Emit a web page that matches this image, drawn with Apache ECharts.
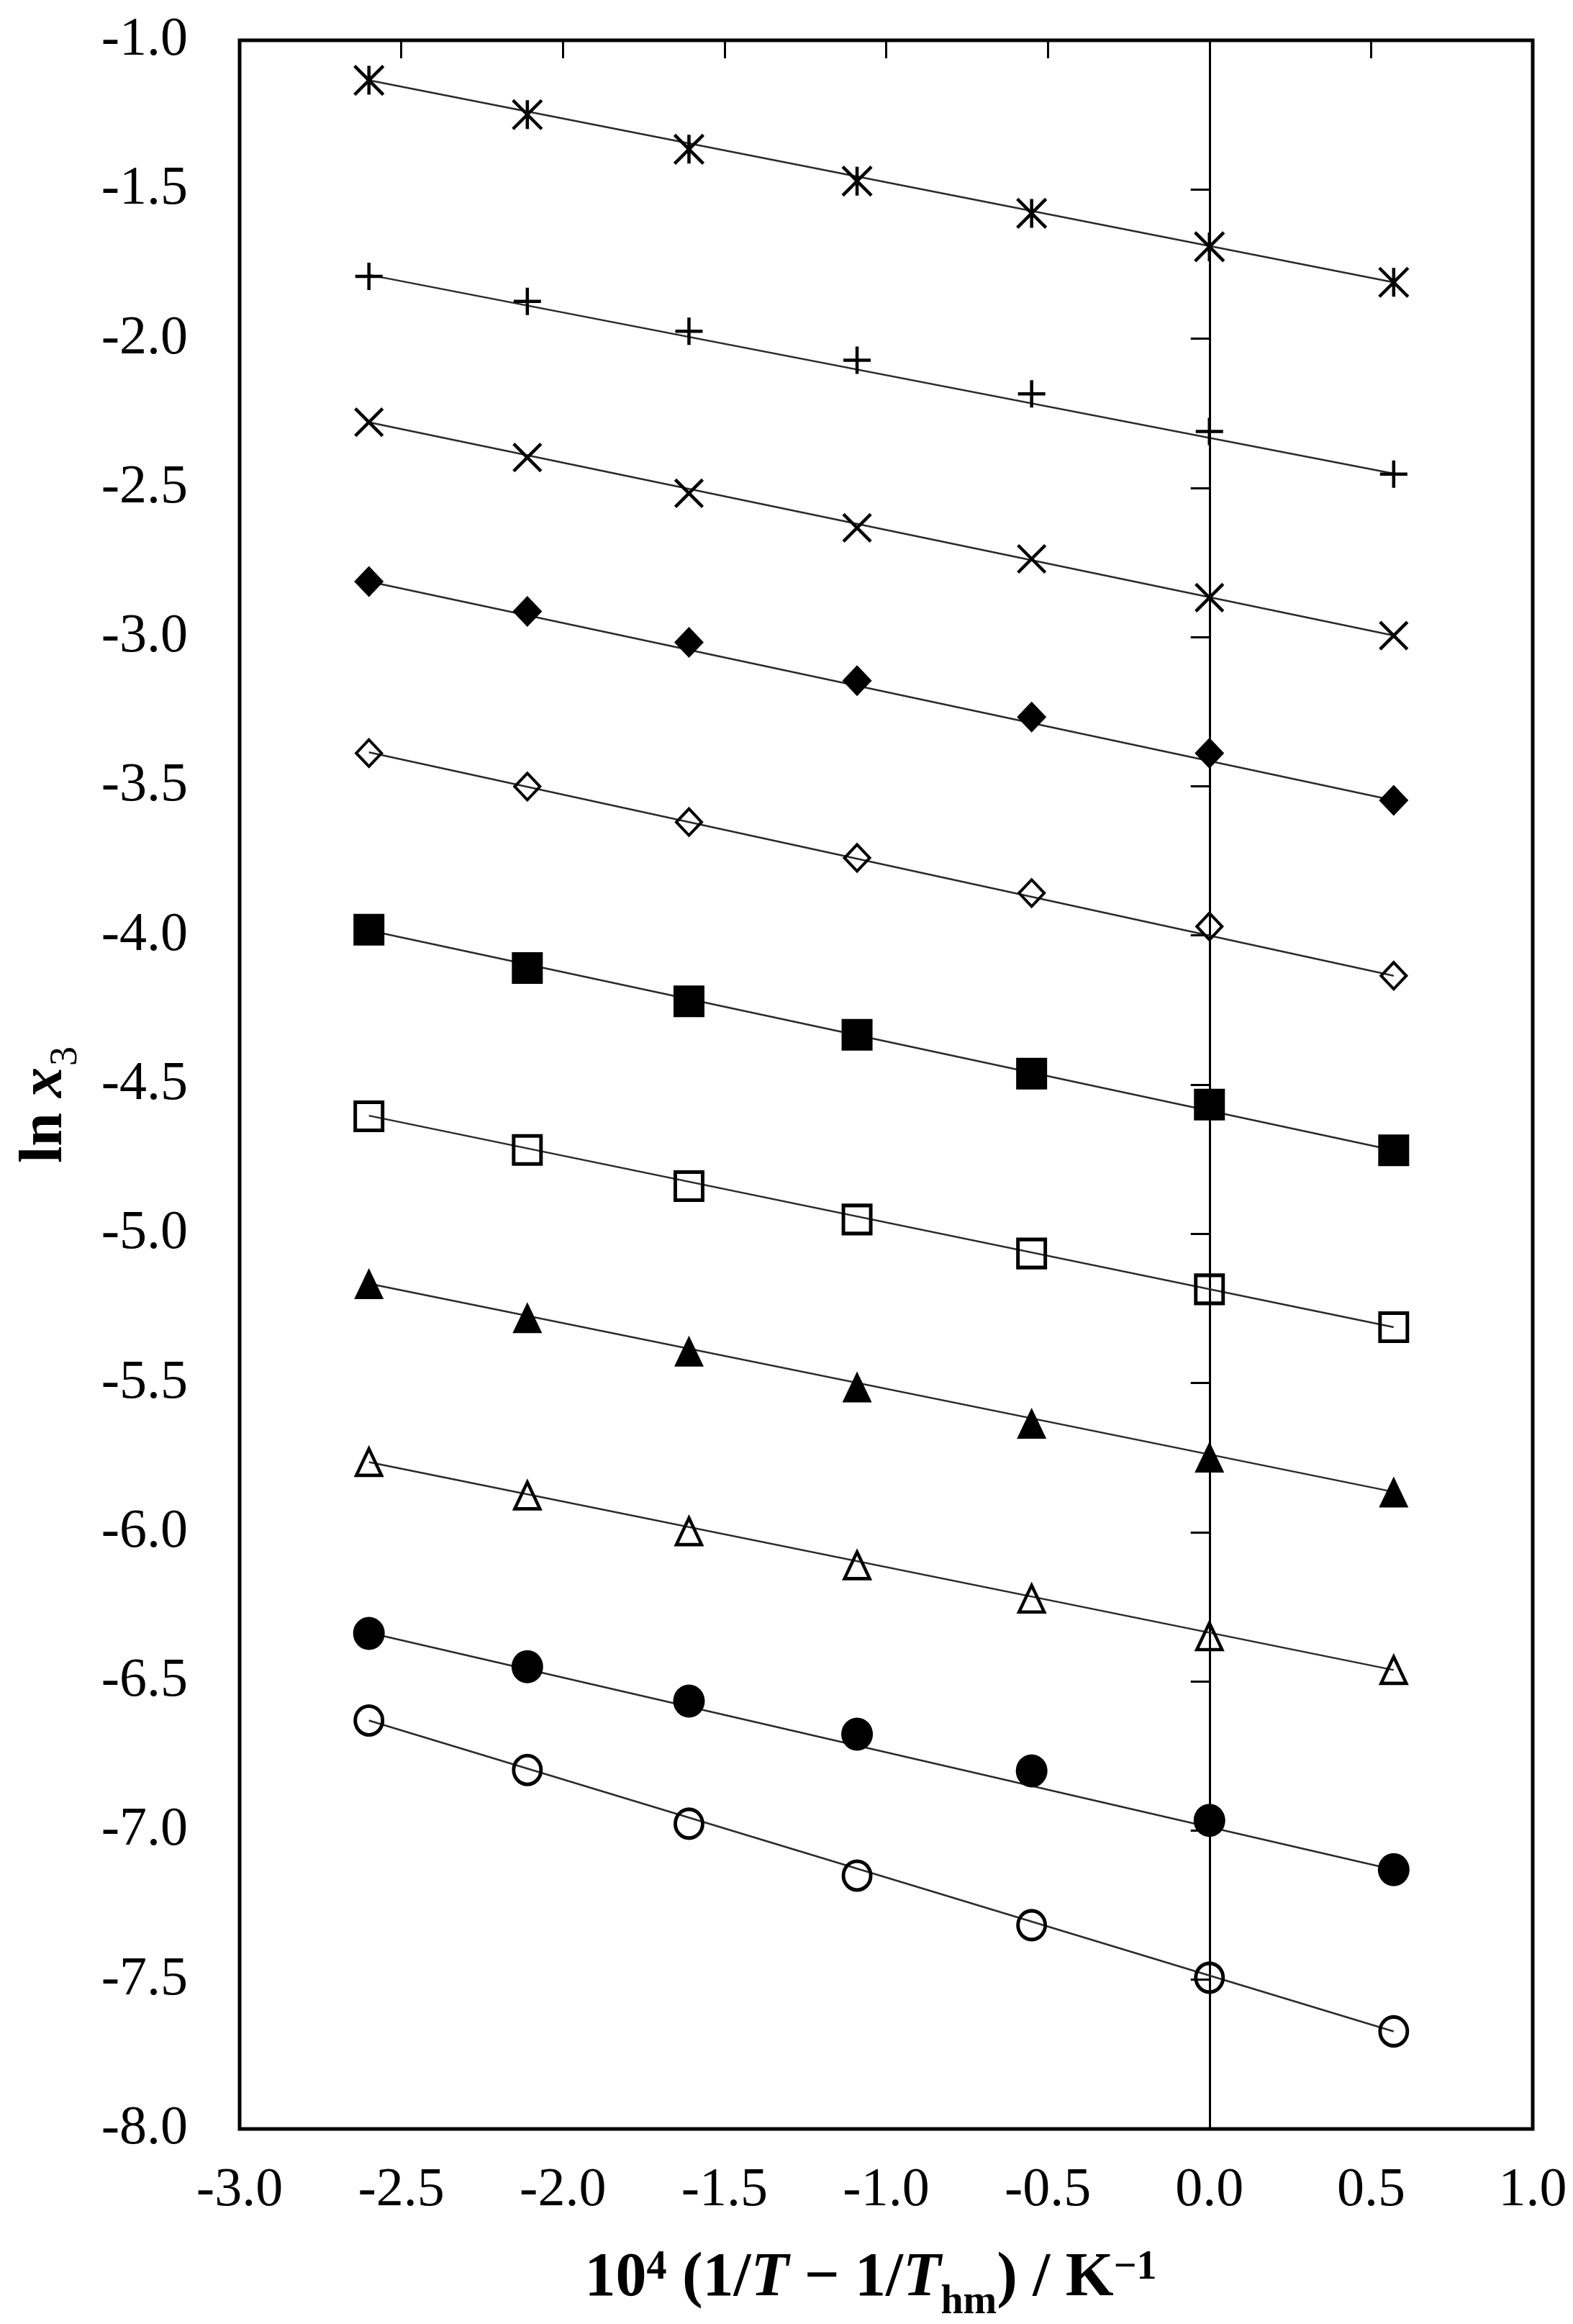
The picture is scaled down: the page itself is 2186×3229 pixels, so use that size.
<!DOCTYPE html>
<html>
<head>
<meta charset="utf-8">
<script src="https://cdn.jsdelivr.net/npm/echarts@6/dist/echarts.min.js"></script>
<style>
    html, body {margin: 0; padding: 0; background: #fff;}
    #chart {width: 2186px; height: 3229px;}
</style>
</head>
<body>
<div id="chart"></div>
<script>
// 10^4 (1/T - 1/Thm) values, same for every solvent
var xData = [-2.60, -2.11, -1.61, -1.09, -0.55, 0.00, 0.57];

// ln x3, top curve to bottom curve
var lnStar = [-1.134, -1.249, -1.365, -1.472, -1.580, -1.692, -1.811];
var lnPlus = [-1.791, -1.875, -1.975, -2.072, -2.185, -2.311, -2.454];
var lnCross = [-2.280, -2.398, -2.518, -2.634, -2.738, -2.868, -2.995];
var lnDiamond = [-2.814, -2.914, -3.018, -3.146, -3.268, -3.389, -3.547];
var lnDiamondOpen = [-3.389, -3.501, -3.620, -3.740, -3.858, -3.970, -4.135];
var lnSquare = [-3.981, -4.109, -4.221, -4.333, -4.463, -4.567, -4.720];
var lnSquareOpen = [-4.606, -4.719, -4.840, -4.952, -5.066, -5.186, -5.313];
var lnTriangle = [-5.167, -5.281, -5.393, -5.513, -5.635, -5.748, -5.865];
var lnTriangleOpen = [-5.765, -5.877, -5.997, -6.111, -6.223, -6.349, -6.462];
var lnCircle = [-6.339, -6.451, -6.566, -6.677, -6.800, -6.966, -7.131];
var lnCircleOpen = [-6.631, -6.797, -6.977, -7.151, -7.317, -7.493, -7.673];

// fitted straight lines: value at first x and at last x
var fitStart = [-1.134, -1.786, -2.280, -2.814, -3.386, -3.983, -4.604, -5.167, -5.765, -6.337, -6.631];
var fitEnd = [-1.811, -2.452, -2.995, -3.547, -4.135, -4.720, -5.313, -5.865, -6.462, -7.131, -7.673];

var xTicks = {min: -3, max: 1, interval: 0.5};
var yTicks = {min: -8, max: -1, interval: 0.5};

var FONT = 'Liberation Serif';

var pathStar = 'path://M0 0L10 10M10 0L0 10M5 0L5 10';
var pathPlus = 'path://M5 0L5 10M0 5L10 5';
var pathCross = 'path://M0 0L10 10M10 0L0 10';

var markers = [
    {data: lnStar, symbol: pathStar, size: 40, fill: false, border: 4.5},
    {data: lnPlus, symbol: pathPlus, size: 38, fill: false, border: 4.5},
    {data: lnCross, symbol: pathCross, size: 38, fill: false, border: 4.5},
    {data: lnDiamond, symbol: 'diamond', size: [41, 43], fill: true, border: 0},
    {data: lnDiamondOpen, symbol: 'diamond', size: [35, 37], fill: false, border: 4},
    {data: lnSquare, symbol: 'rect', size: [43, 44], fill: true, border: 0},
    {data: lnSquareOpen, symbol: 'rect', size: [38, 39], fill: false, border: 5},
    {data: lnTriangle, symbol: 'triangle', size: [41, 43], fill: true, border: 0},
    {data: lnTriangleOpen, symbol: 'triangle', size: [35, 37], fill: false, border: 4.5},
    {data: lnCircle, symbol: 'circle', size: [44, 46], fill: true, border: 0},
    {data: lnCircleOpen, symbol: 'circle', size: [38, 40], fill: false, border: 5}
];

var myChart = echarts.init(document.getElementById('chart'), null, {renderer: 'canvas'});

var series = [];
for (var i = 0; i < markers.length; i++) {
    var m = markers[i];
    series.push({
        type: 'line',
        silent: true,
        symbol: 'none',
        z: 2,
        lineStyle: {color: '#2a2a2a', width: 2.5},
        data: [[xData[0], fitStart[i]], [xData[xData.length - 1], fitEnd[i]]]
    });
    var pts = [];
    for (var j = 0; j < xData.length; j++) {
        pts.push([xData[j], m.data[j]]);
    }
    series.push({
        type: 'scatter',
        silent: true,
        z: 3,
        symbol: m.symbol,
        symbolSize: m.size,
        itemStyle: {
            color: m.fill ? '#000' : 'rgba(0,0,0,0)',
            borderColor: '#000',
            borderWidth: m.border,
            opacity: 1
        },
        data: pts
    });
}

var fmt = function (v) {
    return v.toFixed(1);
};

var option = {
    backgroundColor: '#fff',
    animation: false,
    grid: {
        left: 333, top: 56, right: 56, bottom: 271,
        show: true, borderColor: '#000', borderWidth: 5,
        backgroundColor: 'transparent'
    },
    xAxis: [
        {
            type: 'value', position: 'bottom',
            min: xTicks.min, max: xTicks.max, interval: xTicks.interval,
            axisLine: {show: false, onZero: false},
            axisTick: {show: false},
            splitLine: {show: false},
            axisLabel: {margin: 48, fontSize: 76, fontFamily: FONT, color: '#000', formatter: fmt}
        },
        {
            type: 'value', position: 'top',
            min: xTicks.min, max: xTicks.max, interval: xTicks.interval,
            axisLine: {show: false, onZero: false},
            axisTick: {show: true, inside: true, length: 25, lineStyle: {color: '#000', width: 3}},
            splitLine: {show: false},
            axisLabel: {show: false}
        }
    ],
    yAxis: [
        {
            type: 'value', position: 'left',
            min: yTicks.min, max: yTicks.max, interval: yTicks.interval,
            axisLine: {show: false, onZero: false},
            axisTick: {show: false},
            splitLine: {show: false},
            axisLabel: {margin: 72, fontSize: 76, fontFamily: FONT, color: '#000', formatter: fmt}
        },
        {
            // vertical line through x = 0 with ticks
            type: 'value', position: 'left',
            min: yTicks.min, max: yTicks.max, interval: yTicks.interval,
            axisLine: {show: true, onZero: true, onZeroAxisIndex: 0, lineStyle: {color: '#000', width: 3}},
            axisTick: {show: true, inside: false, length: 26, lineStyle: {color: '#000', width: 3}},
            splitLine: {show: false},
            axisLabel: {show: false}
        }
    ],
    graphic: [
        {
            type: 'text',
            x: 1210, y: 3167,
            style: {
                text: '{b|10}{sup|4}{b| (1/}{bi|T}{b| \u2212 1/}{bi|T}{sub|hm}{b|) / K}{sup|\u22121}',
                align: 'center', verticalAlign: 'middle',
                rich: {
                    b: {fontFamily: FONT, fontWeight: 'bold', fontSize: 86, lineHeight: 86, fill: '#000'},
                    bi: {fontFamily: FONT, fontWeight: 'bold', fontStyle: 'italic', fontSize: 86, lineHeight: 86, fill: '#000'},
                    sup: {fontFamily: FONT, fontWeight: 'bold', fontSize: 56, lineHeight: 56, verticalAlign: 'top', fill: '#000'},
                    sub: {fontFamily: FONT, fontWeight: 'bold', fontSize: 56, lineHeight: 56, padding: [48, 0, 0, 0], verticalAlign: 'top', fill: '#000'}
                }
            }
        },
        {
            type: 'text',
            x: 63, y: 1535,
            rotation: Math.PI / 2,
            style: {
                text: '{b|ln }{bi|x}{sub|3}',
                align: 'center', verticalAlign: 'middle',
                rich: {
                    b: {fontFamily: FONT, fontWeight: 'bold', fontSize: 84, lineHeight: 84, fill: '#000'},
                    bi: {fontFamily: FONT, fontWeight: 'bold', fontStyle: 'italic', fontSize: 84, lineHeight: 84, fill: '#000'},
                    sub: {fontFamily: FONT, fontSize: 54, lineHeight: 54, padding: [44, 0, 0, 2], verticalAlign: 'top', fill: '#000'}
                }
            }
        }
    ],
    series: series
};

myChart.setOption(option);
</script>
</body>
</html>
